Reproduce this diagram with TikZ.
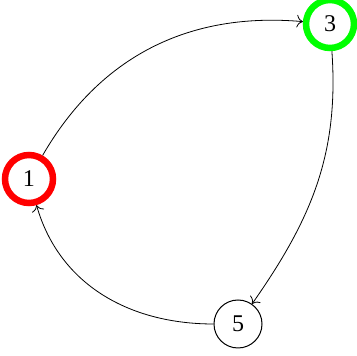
\documentclass[tikz,border=0pt]{standalone}
\usepackage{fontspec}
\setmainfont{Liberation Serif}
\usepackage{tikz}
\usetikzlibrary{arrows.meta,positioning}
\tikzset{
  vtx/.style={draw,circle,minimum size=48pt,inner sep=0pt,line width=1pt,fill=white,font=\fontsize{24}{26}\selectfont},
  vtxred/.style={vtx,draw=red,line width=6.5pt},
  vtxgreen/.style={vtx,draw=green,line width=6.5pt},
  arc/.style={-{To[scale=1.8]},line width=0.8pt},
}
\begin{document}
\begin{tikzpicture}[x=1pt,y=1pt]
 \useasboundingbox (0,0) rectangle (357,356);
 \node[vtxred] (v1) at (29,177){1};
 \node[vtxgreen] (v3) at (330,332){3};
 \node[vtx] (v5) at (238,32){5};
 \draw[arc](v1) to[out=60,in=175] (v3);
 \draw[arc](v3) to[out=-86,in=55] (v5);
 \draw[arc](v5) to[out=180,in=-74] (v1);
\end{tikzpicture}
\end{document}
